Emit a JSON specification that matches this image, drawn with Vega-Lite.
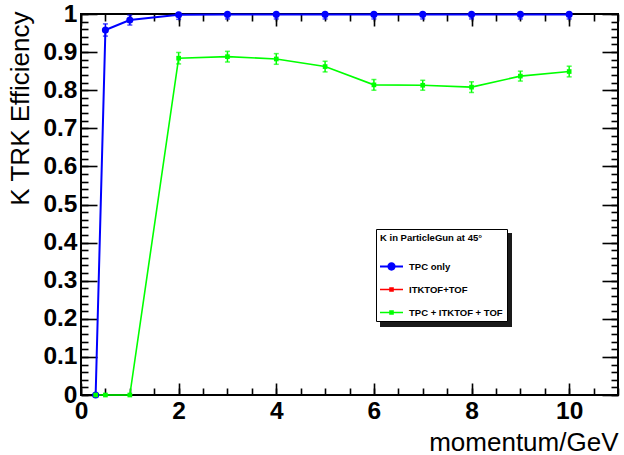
{
  "$schema": "https://vega.github.io/schema/vega-lite/v6.json",
  "width": 537,
  "height": 381,
  "autosize": "none",
  "padding": {"left": 81, "top": 14, "right": 6, "bottom": 60},
  "background": "white",
  "config": {
    "view": {"stroke": "black", "strokeWidth": 2},
    "axis": {"grid": false, "domain": false, "tickColor": "black", "tickWidth": 1.6, "labelFont": "Liberation Sans", "titleFont": "Liberation Sans", "labelColor": "black", "titleColor": "black", "labelFlush": false, "labelOverlap": false},
    "legend": {"orient": "none", "strokeWidth": 1, "padding": 4, "titlePadding": 12.5, "rowPadding": 7, "labelOffset": 6, "symbolSize": 529, "titleFont": "Liberation Sans", "labelFont": "Liberation Sans", "titleFontSize": 9.5, "labelFontSize": 9.5, "titleFontWeight": "bold", "labelFontWeight": "bold", "symbolStrokeWidth": 0, "titleLimit": 300, "labelLimit": 300}
  },
  "data": {"values": [
    {"series": "TPC only", "p": 0.3, "eff": 0, "err": 0},
    {"series": "TPC only", "p": 0.5, "eff": 0.958, "err": 0.016},
    {"series": "TPC only", "p": 1, "eff": 0.984, "err": 0.013},
    {"series": "TPC only", "p": 2, "eff": 0.998, "err": 0.012},
    {"series": "TPC only", "p": 3, "eff": 0.999, "err": 0.012},
    {"series": "TPC only", "p": 4, "eff": 0.999, "err": 0.012},
    {"series": "TPC only", "p": 5, "eff": 0.999, "err": 0.012},
    {"series": "TPC only", "p": 6, "eff": 0.999, "err": 0.012},
    {"series": "TPC only", "p": 7, "eff": 0.999, "err": 0.012},
    {"series": "TPC only", "p": 8, "eff": 0.999, "err": 0.012},
    {"series": "TPC only", "p": 9, "eff": 0.999, "err": 0.012},
    {"series": "TPC only", "p": 10, "eff": 0.999, "err": 0.012},
    {"series": "TPC + ITKTOF + TOF", "p": 0.3, "eff": 0, "err": 0},
    {"series": "TPC + ITKTOF + TOF", "p": 0.5, "eff": 0, "err": 0},
    {"series": "TPC + ITKTOF + TOF", "p": 1, "eff": 0, "err": 0},
    {"series": "TPC + ITKTOF + TOF", "p": 2, "eff": 0.884, "err": 0.015},
    {"series": "TPC + ITKTOF + TOF", "p": 3, "eff": 0.888, "err": 0.014},
    {"series": "TPC + ITKTOF + TOF", "p": 4, "eff": 0.882, "err": 0.014},
    {"series": "TPC + ITKTOF + TOF", "p": 5, "eff": 0.862, "err": 0.014},
    {"series": "TPC + ITKTOF + TOF", "p": 6, "eff": 0.814, "err": 0.014},
    {"series": "TPC + ITKTOF + TOF", "p": 7, "eff": 0.813, "err": 0.013},
    {"series": "TPC + ITKTOF + TOF", "p": 8, "eff": 0.808, "err": 0.014},
    {"series": "TPC + ITKTOF + TOF", "p": 9, "eff": 0.837, "err": 0.013},
    {"series": "TPC + ITKTOF + TOF", "p": 10, "eff": 0.849, "err": 0.014}
  ]},
  "resolve": {"axis": {"x": "independent", "y": "independent"}},
  "layer": [
    {
      "transform": [{"filter": "datum.series === 'TPC only'"}],
      "mark": {"type": "line", "strokeWidth": 2},
      "encoding": {
        "x": {"field": "p", "type": "quantitative", "scale": {"domain": [0, 11], "nice": false, "zero": false},
          "axis": {"orient": "bottom", "values": [0, 2, 4, 6, 8, 10], "ticks": false, "format": "d", "labelFontSize": 24.5, "labelFontWeight": "bold", "labelPadding": 4, "title": "momentum/GeV", "titleFontSize": 26, "titleFontWeight": "normal", "titleAlign": "right", "titleAnchor": "end", "titleX": 537, "titleY": 55, "titleBaseline": "alphabetic"}},
        "y": {"field": "eff", "type": "quantitative", "scale": {"domain": [0, 1], "nice": false},
          "axis": {"orient": "left", "values": [0, 0.1, 0.2, 0.3, 0.4, 0.5, 0.6, 0.7, 0.8, 0.9, 1], "ticks": false, "format": ".1~f", "labelFontSize": 24.5, "labelFontWeight": "bold", "labelPadding": 4, "labelBaseline": "middle", "title": "K TRK Efficiency", "titleFontSize": 26, "titleFontWeight": "normal", "titleAngle": -90, "titleAlign": "right", "titleAnchor": "end", "titleX": -53, "titleY": -3, "titleBaseline": "alphabetic"}},
        "color": {"field": "series", "type": "nominal",
          "scale": {"domain": ["TPC only", "ITKTOF+TOF", "TPC + ITKTOF + TOF"], "range": ["#0000ff", "#ff0000", "#00ff00"]},
          "legend": {"title": "K in ParticleGun at 45°", "legendX": 295, "legendY": 215, "zindex": 2, "fillColor": "white", "strokeColor": "black", "titleColor": "black", "labelColor": "black",
            "encode": {"symbols": {"update": {
              "shape": {"signal": "datum.value === 'TPC only' ? 'M-1,-0.085H-0.3V0.085H-1Z M0.3,-0.085H1V0.085H0.3Z M0.36,0A0.36,0.36,0,1,1,-0.36,0A0.36,0.36,0,1,1,0.36,0Z' : 'M-1,-0.07H-0.2V0.07H-1Z M0.2,-0.07H1V0.07H0.2Z M-0.2,-0.2H0.2V0.2H-0.2Z'"},
              "fill": {"scale": "color", "field": "value"},
              "fillOpacity": {"value": 1},
              "strokeWidth": {"value": 0}
            }}}}}
      }
    },
    {
      "transform": [{"filter": "datum.series !== 'TPC only'"}],
      "mark": {"type": "line", "strokeWidth": 1.6},
      "encoding": {
        "x": {"field": "p", "type": "quantitative", "axis": {"orient": "bottom", "values": [0, 2, 4, 6, 8, 10], "labels": false, "tickSize": -12, "title": null}},
        "y": {"field": "eff", "type": "quantitative", "axis": {"orient": "left", "values": [0, 0.1, 0.2, 0.3, 0.4, 0.5, 0.6, 0.7, 0.8, 0.9, 1], "labels": false, "tickSize": -16, "title": null}},
        "color": {"field": "series", "type": "nominal"}
      }
    },
    {
      "mark": {"type": "errorbar", "ticks": {"size": 5, "thickness": 1.5}, "thickness": 1.5, "clip": true},
      "encoding": {
        "x": {"field": "p", "type": "quantitative", "axis": null},
        "y": {"field": "eff", "type": "quantitative", "axis": null},
        "yError": {"field": "err"},
        "color": {"field": "series", "type": "nominal"}
      }
    },
    {
      "transform": [{"filter": "datum.series === 'TPC only'"}],
      "mark": {"type": "point", "shape": "circle", "filled": true, "size": 50, "opacity": 1},
      "encoding": {
        "x": {"field": "p", "type": "quantitative", "axis": {"orient": "bottom", "values": [0, 0.5, 1, 1.5, 2, 2.5, 3, 3.5, 4, 4.5, 5, 5.5, 6, 6.5, 7, 7.5, 8, 8.5, 9, 9.5, 10, 10.5, 11], "labels": false, "tickSize": -7, "title": null}},
        "y": {"field": "eff", "type": "quantitative", "axis": {"orient": "left", "values": [0, 0.02, 0.04, 0.06, 0.08, 0.1, 0.12, 0.14, 0.16, 0.18, 0.2, 0.22, 0.24, 0.26, 0.28, 0.3, 0.32, 0.34, 0.36, 0.38, 0.4, 0.42, 0.44, 0.46, 0.48, 0.5, 0.52, 0.54, 0.56, 0.58, 0.6, 0.62, 0.64, 0.66, 0.68, 0.7, 0.72, 0.74, 0.76, 0.78, 0.8, 0.82, 0.84, 0.86, 0.88, 0.9, 0.92, 0.94, 0.96, 0.98, 1], "labels": false, "tickSize": -7, "title": null}},
        "color": {"field": "series", "type": "nominal"}
      }
    },
    {
      "transform": [{"filter": "datum.series !== 'TPC only'"}],
      "mark": {"type": "point", "shape": "square", "filled": true, "size": 22, "opacity": 1},
      "encoding": {
        "x": {"field": "p", "type": "quantitative", "axis": {"orient": "top", "values": [0, 2, 4, 6, 8, 10], "labels": false, "tickSize": -12, "title": null}},
        "y": {"field": "eff", "type": "quantitative", "axis": {"orient": "right", "values": [0, 0.1, 0.2, 0.3, 0.4, 0.5, 0.6, 0.7, 0.8, 0.9, 1], "labels": false, "tickSize": -16, "title": null}},
        "color": {"field": "series", "type": "nominal"}
      }
    },
    {
      "mark": {"type": "point", "opacity": 0},
      "encoding": {
        "x": {"field": "p", "type": "quantitative", "axis": {"orient": "top", "values": [0, 0.5, 1, 1.5, 2, 2.5, 3, 3.5, 4, 4.5, 5, 5.5, 6, 6.5, 7, 7.5, 8, 8.5, 9, 9.5, 10, 10.5, 11], "labels": false, "tickSize": -7, "title": null}},
        "y": {"field": "eff", "type": "quantitative", "axis": {"orient": "right", "values": [0, 0.02, 0.04, 0.06, 0.08, 0.1, 0.12, 0.14, 0.16, 0.18, 0.2, 0.22, 0.24, 0.26, 0.28, 0.3, 0.32, 0.34, 0.36, 0.38, 0.4, 0.42, 0.44, 0.46, 0.48, 0.5, 0.52, 0.54, 0.56, 0.58, 0.6, 0.62, 0.64, 0.66, 0.68, 0.7, 0.72, 0.74, 0.76, 0.78, 0.8, 0.82, 0.84, 0.86, 0.88, 0.9, 0.92, 0.94, 0.96, 0.98, 1], "labels": false, "tickSize": -7, "title": null}},
        "fill": {"field": "eff", "type": "quantitative",
          "scale": {"range": ["#1a1a1a", "#1a1a1a"]},
          "legend": {"type": "gradient", "direction": "vertical", "title": null, "labelExpr": "''", "labelFontSize": 1, "legendX": 299, "legendY": 219, "zindex": 0, "padding": 0, "gradientLength": 94, "gradientThickness": 132, "gradientStrokeWidth": 0, "fillColor": null, "strokeColor": null}}
      }
    }
  ]
}
